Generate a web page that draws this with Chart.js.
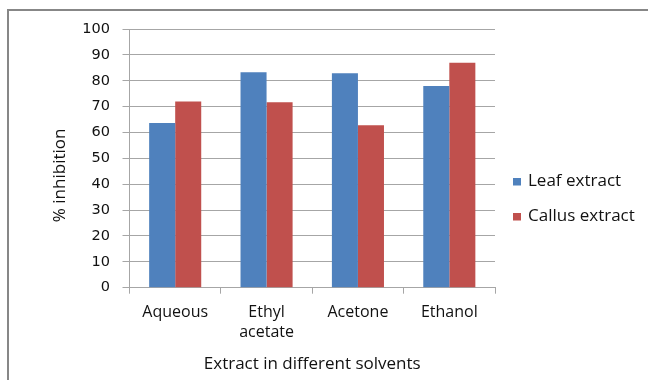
<!DOCTYPE html>
<html>
<head>
<meta charset="utf-8">
<script src="https://cdn.jsdelivr.net/npm/chart.js@4/dist/chart.umd.min.js"></script>
<style>
  html, body { margin: 0; padding: 0; background: #fff; }
  #wrap { width: 648px; height: 380px; position: relative; }
</style>
</head>
<body>
<div id="wrap"><canvas id="c" width="648" height="380"></canvas></div>
<script>
// Solvent extracts and their % inhibition
const categories = ['Aqueous', ['Ethyl', 'acetate'], 'Acetone', 'Ethanol'];
const leafExtract = [63.7, 83.3, 82.9, 78.0];
const callusExtract = [72.0, 71.7, 62.8, 87.0];
const seriesNames = ['Leaf extract', 'Callus extract'];
const seriesColors = ['#4F81BD', '#C0504D'];
const yTicks = [0, 10, 20, 30, 40, 50, 60, 70, 80, 90, 100];

const gridGray = '#A6A6A6';
const textColor = '#111';
const sans = '"Open Sans", sans-serif';

// Grey frame around the whole figure
const framePlugin = {
  id: 'frame',
  beforeDraw(chart) {
    const ctx = chart.ctx;
    ctx.save();
    ctx.fillStyle = '#fff';
    ctx.fillRect(0, 0, chart.width, chart.height);
    ctx.strokeStyle = '#878787';
    ctx.lineWidth = 2;
    ctx.strokeRect(8, 10, chart.width + 20, chart.height + 20);
    ctx.restore();
  }
};

// Legend drawn to the right of the plot from the dataset definitions
const sideLegend = {
  id: 'sideLegend',
  afterDraw(chart) {
    const ctx = chart.ctx;
    ctx.save();
    ctx.font = '17px ' + sans;
    ctx.textBaseline = 'middle';
    ctx.textAlign = 'left';
    chart.data.datasets.forEach((ds, i) => {
      const cy = 181.5 + i * 35;
      ctx.fillStyle = ds.backgroundColor;
      ctx.fillRect(513, cy - 3.5, 8, 7.5);
      ctx.fillStyle = textColor;
      ctx.fillText(ds.label, 528, cy);
    });
    ctx.restore();
  }
};

new Chart(document.getElementById('c'), {
  type: 'bar',
  data: {
    labels: categories,
    datasets: [
      { label: seriesNames[0], data: leafExtract, backgroundColor: seriesColors[0] },
      { label: seriesNames[1], data: callusExtract, backgroundColor: seriesColors[1] }
    ]
  },
  options: {
    responsive: false,
    animation: false,
    devicePixelRatio: 1,
    layout: { padding: { top: 29, right: 153, bottom: 0, left: 0 } },
    datasets: { bar: { barPercentage: 1.0, categoryPercentage: 0.57 } },
    plugins: {
      legend: { display: false },
      tooltip: { enabled: false }
    },
    scales: {
      x: {
        offset: true,
        grid: {
          offset: true,
          drawOnChartArea: false,
          drawTicks: true,
          tickLength: 6,
          color: gridGray
        },
        border: { display: true, color: gridGray, width: 1 },
        ticks: {
          color: textColor,
          font: { family: sans, size: 16, lineHeight: 1.25 },
          padding: 9,
          maxRotation: 0,
          autoSkip: false
        },
        title: {
          display: true,
          text: 'Extract in different solvents',
          color: textColor,
          font: { family: sans, size: 17 },
          padding: { top: 0, bottom: 6 }
        },
        afterFit(scale) {
          scale.height = 92.3;
          scale.paddingLeft = 0;
          scale.paddingRight = 0;
        }
      },
      y: {
        min: 0,
        max: 100,
        afterBuildTicks(scale) { scale.ticks = yTicks.map(v => ({ value: v })); },
        grid: {
          color: gridGray,
          tickLength: 7,
          drawTicks: true
        },
        border: { display: true, color: gridGray, width: 1 },
        ticks: {
          color: textColor,
          font: { family: '"DejaVu Sans", sans-serif', size: 14.5 },
          padding: 12.5
        },
        title: {
          display: true,
          text: '% inhibition\u2003\u2003',
          color: textColor,
          font: { family: sans, size: 17 },
          padding: { top: 50, bottom: 0 }
        },
        afterFit(scale) {
          scale.width = 129.5;
          scale.paddingTop = 0;
          scale.paddingBottom = 0;
        }
      }
    }
  },
  plugins: [framePlugin, sideLegend]
});
</script>
</body>
</html>
